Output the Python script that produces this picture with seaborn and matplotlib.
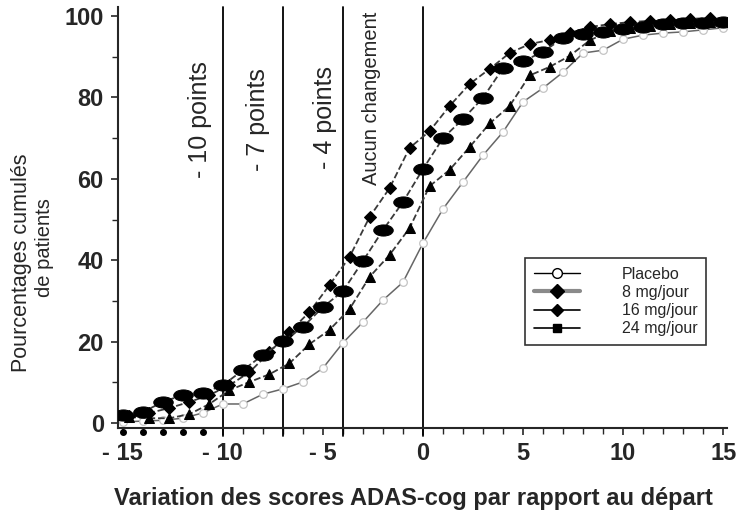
import numpy as np
import pandas as pd
import matplotlib
matplotlib.use("Agg")
import matplotlib.pyplot as plt
from matplotlib.lines import Line2D
from matplotlib.path import Path
from matplotlib.transforms import Affine2D
import seaborn as sns

sns.set_style("ticks")
plt.rcParams["font.family"] = ["Liberation Sans", "DejaVu Sans"]

# ==================== Data ====================
X_INT = list(range(-15, 16))
X_OFF = [-14.67, -13.67, -12.67, -11.67, -10.67, -9.67, -8.67, -7.67, -6.67, -5.67,
         -4.67, -3.67, -2.67, -1.67, -0.67, 0.33, 1.33, 2.33, 3.33, 4.33,
         5.33, 6.33, 7.33, 8.33, 9.33, 10.33, 11.33, 12.33, 13.33, 14.33]

placebo = [0.3, 0.5, 0.7, 1.2, 2.5, 4.7, 4.7, 7.1, 8.4, 10.1, 13.5, 19.7, 24.8, 30.2,
           34.6, 44.2, 52.6, 59.2, 65.8, 71.5, 78.9, 82.3, 86.2, 90.9, 91.6, 94.3,
           95.3, 95.8, 96.1, 96.6, 97.1]
mg8 = [2.0, 2.7, 5.2, 6.9, 7.4, 9.3, 13.0, 16.7, 20.1, 23.6, 28.5, 32.4, 39.8, 47.4,
       54.3, 62.4, 70.0, 74.7, 79.9, 87.2, 88.9, 91.2, 94.6, 95.6, 96.1, 96.8,
       97.3, 98.0, 98.3, 98.3, 98.5]
mg16 = [1.7, 2.5, 3.7, 5.2, 6.9, 9.3, 12.5, 17.4, 22.4, 27.3, 33.9, 40.8, 50.6, 57.7,
        67.6, 71.7, 77.9, 83.3, 87.0, 90.9, 93.1, 94.1, 95.8, 97.3, 98.0, 98.5,
        98.8, 99.0, 99.3, 99.5]
mg24 = [1.5, 1.2, 1.2, 2.2, 4.7, 8.1, 10.1, 12.0, 14.7, 19.4, 22.9, 28.0, 35.9, 41.3,
        47.9, 58.2, 62.2, 67.8, 73.6, 77.9, 85.4, 87.5, 90.2, 94.0, 96.3, 97.0,
        97.6, 98.0, 98.3, 98.6]

dots_x = [-15, -14, -13, -12, -11]
dots_y = [-2.3, -2.3, -2.3, -2.3, -2.3]

ref_lines = [-10, -7, -4, 0]
ref_labels = ["- 10 points", "- 7 points", "- 4 points", "Aucun changement"]

legend_labels = ["Placebo", "8 mg/jour", "16 mg/jour", "24 mg/jour"]
xtick_vals = [-15, -10, -5, 0, 5, 10, 15]
xtick_labels = ["- 15", "- 10", "- 5", "0", "5", "10", "15"]
ytick_vals = [0, 20, 40, 60, 80, 100]

# ==================== Plot ====================
fig = plt.figure(figsize=(7.36, 5.21), dpi=100)
ax = fig.add_axes([0.160, 0.1785, 0.828, 0.808])

ellipse = Path.unit_circle().transformed(Affine2D().scale(1.75, 1.0))
DASH = (4, 2.5)

sns.lineplot(x=X_INT, y=placebo, ax=ax, color="#666666", lw=1.1, marker="o",
             markersize=5.5, markerfacecolor="white", markeredgecolor="#c4c4c4",
             markeredgewidth=0.9, errorbar=None, sort=False, zorder=3)
sns.lineplot(x=X_OFF, y=mg24, ax=ax, color="#3a3a3a", lw=1.3, linestyle="--",
             dashes=DASH, marker="^", markersize=7, markerfacecolor="black",
             markeredgecolor="black", errorbar=None, sort=False, zorder=4)
sns.lineplot(x=X_OFF, y=mg16, ax=ax, color="#3a3a3a", lw=1.3, linestyle="--",
             dashes=DASH, marker="D", markersize=6, markerfacecolor="black",
             markeredgecolor="black", errorbar=None, sort=False, zorder=4)
sns.lineplot(x=X_INT, y=mg8, ax=ax, color="#3a3a3a", lw=1.3, linestyle="--",
             dashes=DASH, marker=ellipse, markersize=14, markerfacecolor="black",
             markeredgecolor="black", errorbar=None, sort=False, zorder=5)
ax.plot(dots_x, dots_y, "o", color="black", ms=4, clip_on=False, zorder=6)

for xv in ref_lines:
    ax.axvline(xv, ymin=-0.02, ymax=1, color="black", lw=1.3, clip_on=False, zorder=2)

ax.text(-11.15, 74.5, ref_labels[0], rotation=90, ha="center", va="center", fontsize=18)
ax.text(-8.25, 74.5, ref_labels[1], rotation=90, ha="center", va="center", fontsize=18)
ax.text(-4.9, 75, ref_labels[2], rotation=90, ha="center", va="center", fontsize=18)
ax.text(-2.55, 101, ref_labels[3], rotation=90, ha="center", va="top", fontsize=14.5)

ax.set_xlim(-15.25, 15.2)
ax.set_ylim(-1.2, 102.2)
ax.set_xticks(xtick_vals)
ax.set_xticklabels(xtick_labels)
ax.set_xticks(X_INT, minor=True)
ax.set_yticks(ytick_vals)
ax.set_yticks([10, 30, 50, 70, 90], minor=True)
ax.tick_params(axis="both", which="major", labelsize=17, width=1.2, length=5,
               direction="out", pad=5)
ax.tick_params(axis="both", which="minor", width=1.0, length=4, direction="out")
for lab in ax.get_xticklabels() + ax.get_yticklabels():
    lab.set_fontweight("bold")

sns.despine(ax=ax)
ax.spines["left"].set_linewidth(1.5)
ax.spines["bottom"].set_linewidth(1.5)

ax.set_xlabel("Variation des scores ADAS-cog par rapport au départ",
              fontsize=17, fontweight="bold")
ax.xaxis.set_label_coords(0.485, -0.141)
fig.text(22 / 736, 1 - 263 / 521, "Pourcentages cumulés", rotation=90,
         ha="center", va="center", fontsize=15.5)
fig.text(45 / 736, 1 - 248 / 521, "de patients", rotation=90,
         ha="center", va="center", fontsize=14.5)

handles = [
    Line2D([], [], color="black", lw=1.0, marker="o", ms=7,
           markerfacecolor="white", markeredgecolor="black"),
    Line2D([], [], color="#8a8a8a", lw=3.0, marker="D", ms=7,
           markerfacecolor="black", markeredgecolor="black"),
    Line2D([], [], color="black", lw=1.2, marker="D", ms=6,
           markerfacecolor="black", markeredgecolor="black"),
    Line2D([], [], color="black", lw=1.2, marker="s", ms=6,
           markerfacecolor="black", markeredgecolor="black"),
]
leg = ax.legend(handles, legend_labels, loc="upper left",
                bbox_to_anchor=(525 / 736, 1 - 258 / 521),
                bbox_transform=fig.transFigure, borderaxespad=0,
                frameon=True, fancybox=False, edgecolor="black", fontsize=11.5,
                handlelength=2.9, handletextpad=2.6, labelspacing=0.2,
                borderpad=0.55)
leg.get_frame().set_linewidth(1.2)

fig.savefig("out.png", dpi=100)
